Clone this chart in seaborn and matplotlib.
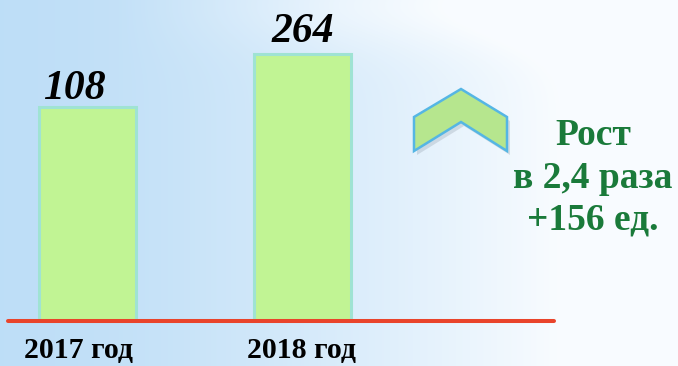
import numpy as np
import pandas as pd
import matplotlib
matplotlib.use("Agg")
import matplotlib.pyplot as plt
import matplotlib.transforms as mtransforms
from matplotlib.patches import Polygon
import seaborn as sns

# Data
years = ["2017 год", "2018 год"]
counts = [108, 264]
value_labels = ["108", "264"]
growth_lines = ["Рост", "в 2,4 раза", "+156 ед."]

W, H, DPI = 678, 366, 100
sns.set_theme(style="white")
plt.rcParams["font.family"] = ["Liberation Serif", "DejaVu Serif"]

fig = plt.figure(figsize=(W / DPI, H / DPI), dpi=DPI)

# pixel -> figure transform (origin top-left, y downward)
px = mtransforms.Affine2D().scale(1 / W, -1 / H).translate(0, 1) + fig.transFigure

# soft blue-to-white background
bg = fig.add_axes([0, 0, 1, 1], zorder=0)
yy, xx = np.mgrid[0:H, 0:W]
t = np.clip(xx / 560.0, 0, 1) ** 1.5
t = t + 0.3 * np.exp(-((yy - 5) / 45.0) ** 2) * np.clip((xx - 120) / 220.0, 0, 1)
t = np.clip(t, 0, 1)[..., None]
blue = np.array([0.745, 0.871, 0.969])
white = np.array([0.975, 0.988, 1.0])
bg.imshow(blue * (1 - t) + white * t, aspect="auto", extent=[0, W, H, 0])
bg.set_axis_off()

# bar chart area: baseline at the red rule
base_px = 321
ax = fig.add_axes([0, (H - base_px) / H, 1, base_px / H], zorder=1)
ax.patch.set_alpha(0)

df = pd.DataFrame({"year": years, "count": counts})
sns.barplot(data=df, x="year", y="count", width=0.45, color="#C1F494",
            saturation=1, edgecolor="#9FE3D3", linewidth=2.2, ax=ax)
ax.set_yscale("log")
ax.set_ylim(2.886, 660)
ax.set_xlim(-0.4064, 2.743)
ax.set_axis_off()

# red baseline
ax.axhline(2.886, xmin=8 / W, xmax=554 / W, color="#E9442B", lw=2.9,
           clip_on=False, zorder=5)

# value labels above bars
val_offsets = [(-13.5, 7.5), (0, 12)]
for i, (lab, v) in enumerate(zip(value_labels, counts)):
    ax.annotate(lab, xy=(i, v), xytext=val_offsets[i], textcoords="offset pixels",
                ha="center", va="baseline", fontsize=30, fontweight="bold",
                fontstyle="italic", color="black")

# category labels under the baseline
cat_offsets = [-8.5, -1]
for i, lab in enumerate(years):
    ax.annotate(lab, xy=(i, 8 / H), xycoords=("data", "figure fraction"),
                xytext=(cat_offsets[i], 0), textcoords="offset pixels",
                ha="center", va="baseline", fontsize=21.5, fontweight="bold",
                color="black", annotation_clip=False)

# upward chevron
chev = [(461, 89), (507, 117), (507, 151), (461, 122), (414, 151), (414, 117)]
shadow = [(x + 3, y + 4) for x, y in chev]
fig.patches.append(Polygon(shadow, closed=True, transform=px, facecolor="#7f8c99",
                           alpha=0.25, edgecolor="none", zorder=2))
fig.patches.append(Polygon(chev, closed=True, transform=px, facecolor="#B6E68E",
                           edgecolor="#55B6E4", lw=1.8, joinstyle="miter", zorder=3))

# growth note
baselines = [145, 188, 230]
for line, yb in zip(growth_lines, baselines):
    fig.text(593, yb, line, transform=px, ha="center", va="baseline",
             fontsize=27, fontweight="bold", color="#1A7A3A")

fig.savefig("out.png", dpi=DPI)
